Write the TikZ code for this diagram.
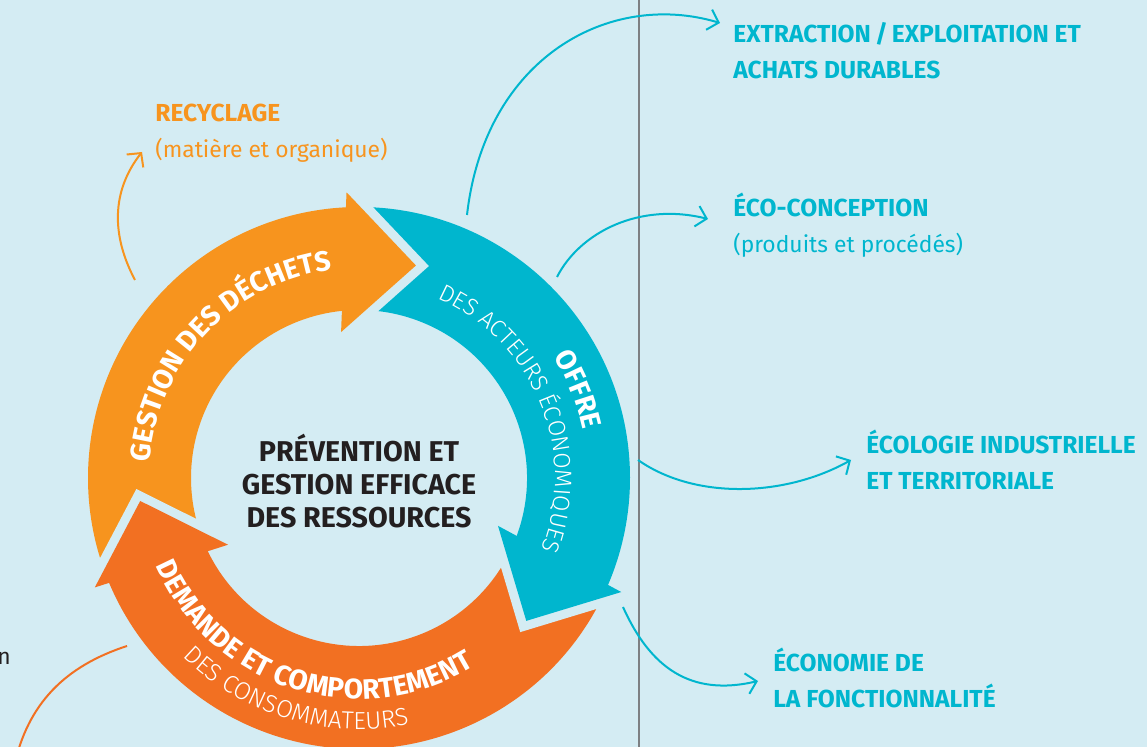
\documentclass[tikz,border=0pt]{standalone}
\usepackage{fontspec}
\setmainfont{Fira Sans}
\newfontfamily\lightfont{Fira Sans Light}
\usetikzlibrary{decorations.text, arrows.meta}
\definecolor{bg_blue}{RGB}{212, 236, 243}
\definecolor{waste_orange}{RGB}{247, 148, 30}
\definecolor{demand_orange}{RGB}{242, 112, 34}
\definecolor{offer_blue}{RGB}{0, 182, 206}
\definecolor{text_dark}{RGB}{35, 31, 32}
\definecolor{rule_gray}{RGB}{125, 128, 131}
\newcommand{\sidetitle}[1]{{\bfseries\fontsize{14}{20.5}\selectfont #1}}

\begin{document}
\begin{tikzpicture}[x=0.02cm, y=0.02cm,
  link/.style={line width=0.04cm},
  linkto/.style={link, -{Straight Barb[length=0.2cm, width=0.42cm]}},
  side_text/.style={anchor=base west, align=left, inner sep=0pt, font=\fontsize{13}{20.5}\selectfont}]

\useasboundingbox (0, 0) rectangle (1147, 747);
\fill[bg_blue] (0, 0) rectangle (1147, 747);
\draw[rule_gray, line width=0.04cm] (639, 0) -- (639, 747);

\begin{scope}[shift={(359, 269)}]
% ring pieces
\foreach \col/\from/\to in {waste_orange/203/93, offer_blue/93/-23, demand_orange/337/203}
  \fill[\col] ({\from-2}:271) arc[start angle=\from-2, end angle=\to-2, radius=271]
    -- ({\to+1}:168) arc[start angle=\to+1, end angle=\from+1, radius=168] -- cycle;
% heads, with a gap cut into the next tail
\foreach \col/\base/\tip in {waste_orange/93/75, offer_blue/-23/-40.5, demand_orange/203/186} {
  \draw[bg_blue, line width=0.36cm, line join=miter] ({\base-0.5}:286) -- (\tip:220) -- ({\base+4}:147);
  \fill[\col] ({\base-0.5}:286) -- (\tip:220) -- ({\base+4}:147) -- cycle;
}

\path[decorate, decoration={text along path, text align=center, text color=white,
  text={|\bfseries\fontsize{16}{19}\selectfont|GESTION DES DÉCHETS}}]
  (196.5:210) arc[start angle=196.5, end angle=76.5, radius=210];
\path[decorate, decoration={text along path, text align=center, text color=white,
  text={|\bfseries\fontsize{16}{19}\selectfont|OFFRE}}]
  (82:229) arc[start angle=82, end angle=-38, radius=229];
\path[decorate, decoration={text along path, text align=center, text color=white,
  text={|\lightfont\fontsize{13.5}{16}\selectfont|DES ACTEURS ÉCONOMIQUES}}]
  (97.5:196) arc[start angle=97.5, end angle=-52.5, radius=196];
\path[decorate, decoration={text along path, text align=center, text color=white,
  text={|\bfseries\fontsize{16}{19}\selectfont|DEMANDE ET COMPORTEMENT}}]
  (192.5:221) arc[start angle=192.5, end angle=312.5, radius=221];
\path[decorate, decoration={text along path, text align=center, text color=white,
  text={|\lightfont\fontsize{14}{16}\selectfont|DES CONSOMMATEURS}}]
  (193.5:251) arc[start angle=193.5, end angle=313.5, radius=251];

\node[align=center, text=text_dark, font=\bfseries\fontsize{16.3}{19}\selectfont] (core) at (0, -3)
  {PRÉVENTION ET\\GESTION EFFICACE\\DES RESSOURCES};
\end{scope}

% side labels (anchored on the last line)
\node[side_text, text=waste_orange] (recycling) at (155, 589) {\sidetitle{RECYCLAGE}\\(matière et organique)};
\node[side_text, text=offer_blue] (extraction) at (733, 668) {\sidetitle{EXTRACTION\,/\,EXPLOITATION ET}\\\sidetitle{ACHATS DURABLES}};
\node[side_text, text=offer_blue] (ecodesign) at (733, 494) {\sidetitle{ÉCO-CONCEPTION}\\(produits et procédés)};
\node[side_text, text=offer_blue] (ecology) at (866, 257) {\sidetitle{ÉCOLOGIE INDUSTRIELLE}\\\sidetitle{ET TERRITORIALE}};
\node[side_text, text=offer_blue] (functionality) at (773, 39) {\sidetitle{ÉCONOMIE DE}\\\sidetitle{LA FONCTIONNALITÉ}};
\node[side_text, text=text_dark, anchor=base east] (cut_word) at (11, 82) {n};

% links
\coordinate (rec_from) at (135, 467);
\coordinate (rec_to) at (142, 595);
\coordinate (use_from) at (127, 101);
\coordinate (use_to) at (14, -20);
\coordinate (ext_from) at (467, 532);
\coordinate (ext_to) at (720, 724);
\coordinate (eco_from) at (557, 470);
\coordinate (eco_to) at (708, 528);
\coordinate (ind_from) at (638, 287);
\coordinate (ind_to) at (851, 287);
\coordinate (fun_from) at (623, 140);
\coordinate (fun_to) at (758, 66);

\draw[linkto, waste_orange] (rec_from) to[out=118, in=232] (rec_to);
\draw[link, demand_orange] (use_from) to[out=198, in=78] (use_to);
\draw[linkto, offer_blue] (ext_from) .. controls (485, 690) and (610, 757) .. (ext_to);
\draw[linkto, offer_blue] (eco_from) .. controls (580, 515) and (640, 545) .. (eco_to);
\draw[linkto, offer_blue] (ind_from) .. controls (695, 247) and (785, 250) .. (ind_to);
\draw[linkto, offer_blue] (fun_from) .. controls (650, 80) and (690, 50) .. (fun_to);

\end{tikzpicture}
\end{document}
